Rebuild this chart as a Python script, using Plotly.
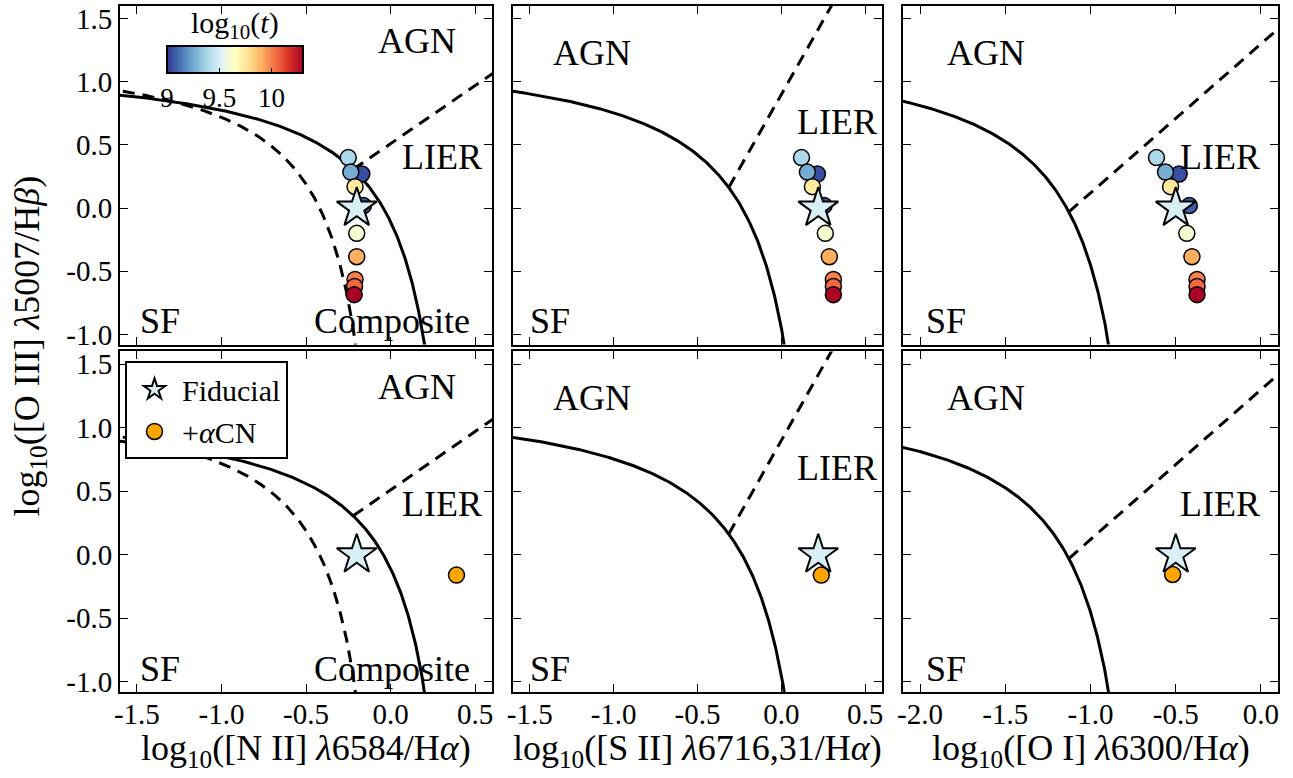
import numpy as np
import plotly.graph_objects as go

# ---------------- data ----------------
log_t   = [9.39, 9.05, 9.08, 9.26, 9.74, 9.61, 9.91, 10.00, 10.05, 10.29]
oiii_hb = [0.40, 0.27, 0.02, 0.285, 0.17, -0.20, -0.385, -0.565, -0.62, -0.685]
nii_ha  = [-0.25, -0.17, -0.16, -0.235, -0.21, -0.20, -0.20, -0.21, -0.213, -0.215]
sii_ha  = [0.12, 0.215, 0.255, 0.155, 0.185, 0.262, 0.286, 0.31, 0.31, 0.31]
oi_ha   = [-0.613, -0.48, -0.42, -0.56, -0.53, -0.435, -0.405, -0.375, -0.375, -0.375]

fid_x = [-0.20, 0.22, -0.50]        # NII, SII, OI
fid_y = [0.0, 0.0, 0.0]
acn_x = [0.39, 0.238, -0.518]
acn_y = [-0.16, -0.16, -0.155]

# demarcation curves  y = a/(x-b)+c ; lines y = m x + k
KEW_NII = (0.61, 0.47, 1.19)
KAU_NII = (0.61, 0.05, 1.30)
KEW_SII = (0.72, 0.32, 1.30)
KEW_OI  = (0.73, -0.59, 1.33)
LIER_NII = (0.92, 0.51)
LIER_SII = (2.35, 0.90)
LIER_OI  = (1.18, 1.30)

x_ranges = [[-1.6, 0.6], [-1.6, 0.6], [-2.1, 0.1]]
y_range = [-1.08, 1.6]
x_ticks = [[-1.5, -1.0, -0.5, 0.0, 0.5], [-1.5, -1.0, -0.5, 0.0, 0.5], [-2.0, -1.5, -1.0, -0.5, 0.0]]
y_ticks = [-1.0, -0.5, 0.0, 0.5, 1.0, 1.5]
cbar_ticks = [9, 9.5, 10]
cbar_ticktext = ["9", "9.5", "10"]
x_titles = ["log<sub>10</sub>([N II] <i>λ</i>6584/H<i>α</i>)",
            "log<sub>10</sub>([S II] <i>λ</i>6716,31/H<i>α</i>)",
            "log<sub>10</sub>([O I] <i>λ</i>6300/H<i>α</i>)"]
y_title = "log<sub>10</sub>([O III] <i>λ</i>5007/H<i>β</i>)"
cbar_title = "log<sub>10</sub>(<i>t</i>)"

# ---------------- layout geometry (pixels) ----------------
W, H = 1293, 778
ML, MR, MT, MB = 120, 15, 3, 86
PW, PH = W - ML - MR, H - MT - MB
col_px = [(120, 492), (513, 882), (903, 1278)]
row_px = [(3, 343), (350, 692)]
def xd(p): return (p - ML) / PW
def yd(p): return (H - MB - p) / PH

FONT = "Liberation Serif"
fig = go.Figure()

def fmt(v):
    return f"{v:.1f}"

def curve(coef, xmin):
    a, b, c = coef
    xend = b + a / (-1.4 - c)
    x = np.linspace(xmin, xend, 500)
    return x, a / (x - b) + c

def lier(coef_c, coef_l, xmax):
    a, b, c = coef_c
    m, k = coef_l
    roots = np.roots([m, (k - c) - m * b, -(k - c) * b - a])
    roots = np.real(roots[np.isreal(roots)])
    xi = roots[roots < b].max()
    x = np.array([xi, xmax + 0.5])
    return x, m * x + k

line_solid = dict(color="black", width=3)
line_dash = dict(color="black", width=3, dash="12px,8px")

panel_lines = [
    [(KEW_NII, line_solid), (KAU_NII, line_dash)],
    [(KEW_SII, line_solid)],
    [(KEW_OI, line_solid)],
]
panel_lier = [(KEW_NII, LIER_NII), (KEW_SII, LIER_SII), (KEW_OI, LIER_OI)]
xs_data = [nii_ha, sii_ha, oi_ha]

labels = [
    [("AGN", 0.156, 1.324), ("LIER", 0.305, 0.403), ("SF", -1.362, -0.896), ("Composite", 0.007, -0.896)],
    [("AGN", -1.13, 1.23), ("LIER", 0.334, 0.68), ("SF", -1.38, -0.896)],
    [("AGN", -1.612, 1.23), ("LIER", -0.243, 0.403), ("SF", -1.85, -0.896)],
]

annotations = []
for r in range(2):
    for c in range(3):
        idx = r * 3 + c + 1
        xa = "x" if idx == 1 else f"x{idx}"
        ya = "y" if idx == 1 else f"y{idx}"
        xmin, xmax = x_ranges[c]
        for coef, ls in panel_lines[c]:
            x, y = curve(coef, xmin - 0.1)
            fig.add_trace(go.Scatter(x=x, y=y, mode="lines", line=ls, xaxis=xa, yaxis=ya,
                                     showlegend=False, hoverinfo="skip"))
        x, y = lier(panel_lier[c][0], panel_lier[c][1], xmax)
        fig.add_trace(go.Scatter(x=x, y=y, mode="lines", line=line_dash, xaxis=xa, yaxis=ya,
                                 showlegend=False, hoverinfo="skip"))
        if r == 0:
            fig.add_trace(go.Scatter(
                x=xs_data[c], y=oiii_hb, mode="markers", xaxis=xa, yaxis=ya, showlegend=False,
                marker=dict(size=16, color=log_t, coloraxis="coloraxis",
                            line=dict(color="black", width=1.5))))
            fig.add_trace(go.Scatter(
                x=[fid_x[c]], y=[fid_y[c]], mode="markers", xaxis=xa, yaxis=ya, showlegend=False,
                marker=dict(symbol="star", size=30, color="#d9eff6",
                            line=dict(color="black", width=2))))
        else:
            fig.add_trace(go.Scatter(
                x=[acn_x[c]], y=[acn_y[c]], mode="markers", xaxis=xa, yaxis=ya,
                name="+<i>α</i>CN", showlegend=(c == 0), legendrank=2,
                marker=dict(size=16, color="#ffa500", line=dict(color="black", width=1.5))))
            fig.add_trace(go.Scatter(
                x=[fid_x[c]], y=[fid_y[c]], mode="markers", xaxis=xa, yaxis=ya,
                name="Fiducial", showlegend=(c == 0), legendrank=1,
                marker=dict(symbol="star", size=30, color="#d9eff6",
                            line=dict(color="black", width=2))))
        for txt, tx, ty in labels[c]:
            annotations.append(dict(text=txt, x=tx, y=ty, xref=xa, yref=ya, showarrow=False,
                                    font=dict(family=FONT, size=36, color="black")))

        axis_common = dict(showline=True, linewidth=2, linecolor="black", mirror="allticks",
                           ticks="inside", ticklen=8, tickwidth=1.2, tickcolor="black",
                           showgrid=False, zeroline=False,
                           tickfont=dict(family=FONT, size=29, color="black"))
        xkey = "xaxis" if idx == 1 else f"xaxis{idx}"
        ykey = "yaxis" if idx == 1 else f"yaxis{idx}"
        fig.layout[xkey] = dict(axis_common, domain=[xd(col_px[c][0]), xd(col_px[c][1])],
                                range=x_ranges[c], anchor=ya, ticklabelstandoff=-5,
                                tickvals=x_ticks[c], ticktext=[fmt(v) for v in x_ticks[c]],
                                showticklabels=(r == 1))
        fig.layout[ykey] = dict(axis_common, domain=[yd(row_px[r][1]), yd(row_px[r][0])],
                                range=y_range, anchor=xa,
                                tickvals=y_ticks, ticktext=[fmt(v) for v in y_ticks],
                                showticklabels=(c == 0))

for c in range(3):
    annotations.append(dict(text=x_titles[c], xref="paper", yref="paper",
                            x=(xd(col_px[c][0]) + xd(col_px[c][1])) / 2, y=yd(751),
                            xanchor="center", yanchor="middle", showarrow=False,
                            font=dict(family=FONT, size=36, color="black")))
annotations.append(dict(text=y_title, xref="paper", yref="paper", x=xd(30), y=yd(345),
                        textangle=-90, xanchor="center", yanchor="middle", showarrow=False,
                        font=dict(family=FONT, size=36, color="black")))
annotations.append(dict(text=cbar_title, xref="paper", yref="paper", x=xd(235), y=yd(22),
                        xanchor="center", yanchor="middle", showarrow=False,
                        font=dict(family=FONT, size=30, color="black")))

fig.update_layout(
    width=W, height=H,
    margin=dict(l=ML, r=MR, t=MT, b=MB),
    paper_bgcolor="white", plot_bgcolor="white",
    annotations=annotations,
    coloraxis=dict(
        colorscale="RdYlBu_r", cmin=9.0, cmax=10.3,
        colorbar=dict(orientation="h", x=xd(235), xanchor="center", y=yd(43), yanchor="top",
                      len=136, lenmode="pixels", thickness=27, outlinewidth=2, outlinecolor="black",
                      ticks="inside", ticklen=6, tickcolor="black", tickwidth=1,
                      tickvals=cbar_ticks, ticktext=cbar_ticktext,
                      tickfont=dict(family=FONT, size=27, color="black"),
                      xpad=0, ypad=0, bgcolor="rgba(0,0,0,0)"),
    ),
    legend=dict(x=xd(125), y=yd(360), xanchor="left", yanchor="top",
                bgcolor="white", bordercolor="black", borderwidth=2,
                font=dict(family=FONT, size=30, color="black"), traceorder="normal",
                itemsizing="trace", itemwidth=45, tracegroupgap=0),
    showlegend=True,
)

fig.write_html("out.html")
